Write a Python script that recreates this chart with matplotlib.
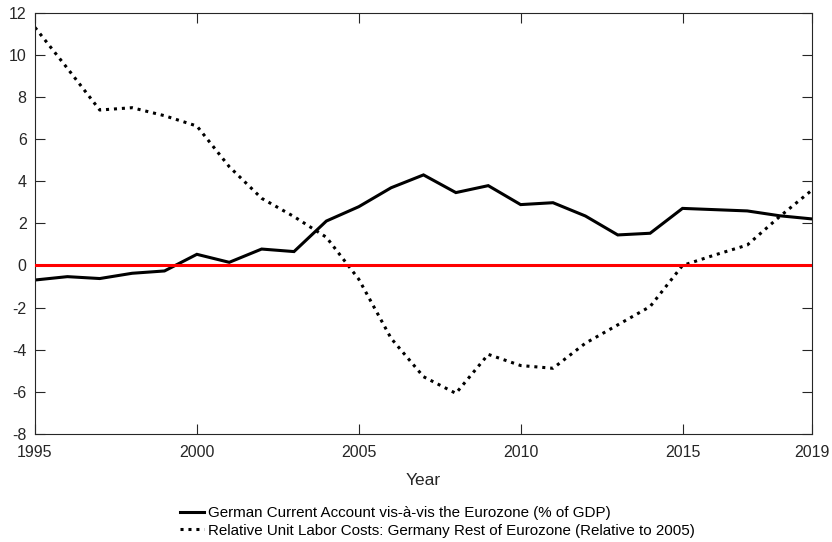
import matplotlib
matplotlib.use("Agg")
import matplotlib.pyplot as plt

plt.rcParams["font.family"] = ["Liberation Sans", "DejaVu Sans"]
plt.rcParams["axes.unicode_minus"] = False

years = list(range(1995, 2020))
current_account = [-0.69, -0.53, -0.62, -0.37, -0.26, 0.53, 0.15, 0.78, 0.66, 2.11,
                   2.79, 3.69, 4.30, 3.46, 3.79, 2.89, 2.98, 2.35, 1.45, 1.53,
                   2.71, 2.65, 2.59, 2.36, 2.21]
relative_ulc = [11.30, 9.36, 7.38, 7.49, 7.11, 6.62, 4.69, 3.19, 2.32, 1.34,
                -0.65, -3.46, -5.28, -6.07, -4.22, -4.75, -4.88, -3.69, -2.82, -1.95,
                0.0, 0.50, 0.97, 2.32, 3.58]
xtick_values = [1995, 2000, 2005, 2010, 2015, 2019]
ytick_values = list(range(-8, 13, 2))
series_labels = ["German Current Account vis-à-vis the Eurozone (% of GDP)",
                 "Relative Unit Labor Costs: Germany Rest of Eurozone (Relative to 2005)"]

fig = plt.figure(figsize=(8.32, 5.42), dpi=100)
ax = fig.add_axes([35 / 832, 1 - 434 / 542, 777 / 832, (434 - 12.7) / 542])

l1, = ax.plot(years, current_account, color="black", linewidth=2.2,
              solid_joinstyle="miter", label=series_labels[0])
l2, = ax.plot(years, relative_ulc, color="black", linewidth=2.2, linestyle=(0, (1, 1.6)),
              dash_capstyle="butt", label=series_labels[1])
ax.axhline(0, color="#ff0000", linewidth=2.2, zorder=3)

ax.set_xlim(1995, 2019)
ax.set_ylim(-8, 12)
ax.set_xticks(xtick_values)
ax.set_yticks(ytick_values)

tick_color = "#262626"
ax.tick_params(direction="in", length=7, width=0.8, top=True, right=True,
               labelsize=11.5, colors=tick_color)
ax.tick_params(axis="x", pad=8)
ax.tick_params(axis="y", pad=6)
for s in ax.spines.values():
    s.set_color(tick_color)
    s.set_linewidth(0.8)

ax.set_xlabel("Year", fontsize=12.5, color=tick_color, labelpad=9)

fig.legend(handles=[l1, l2], loc="upper left", bbox_to_anchor=(180 / 832, 1 - 506.5 / 542),
           frameon=False, fontsize=10.9, handlelength=1.6, handletextpad=0.27,
           labelspacing=0.2, borderaxespad=0, borderpad=0)

fig.savefig("out.png", dpi=100)
